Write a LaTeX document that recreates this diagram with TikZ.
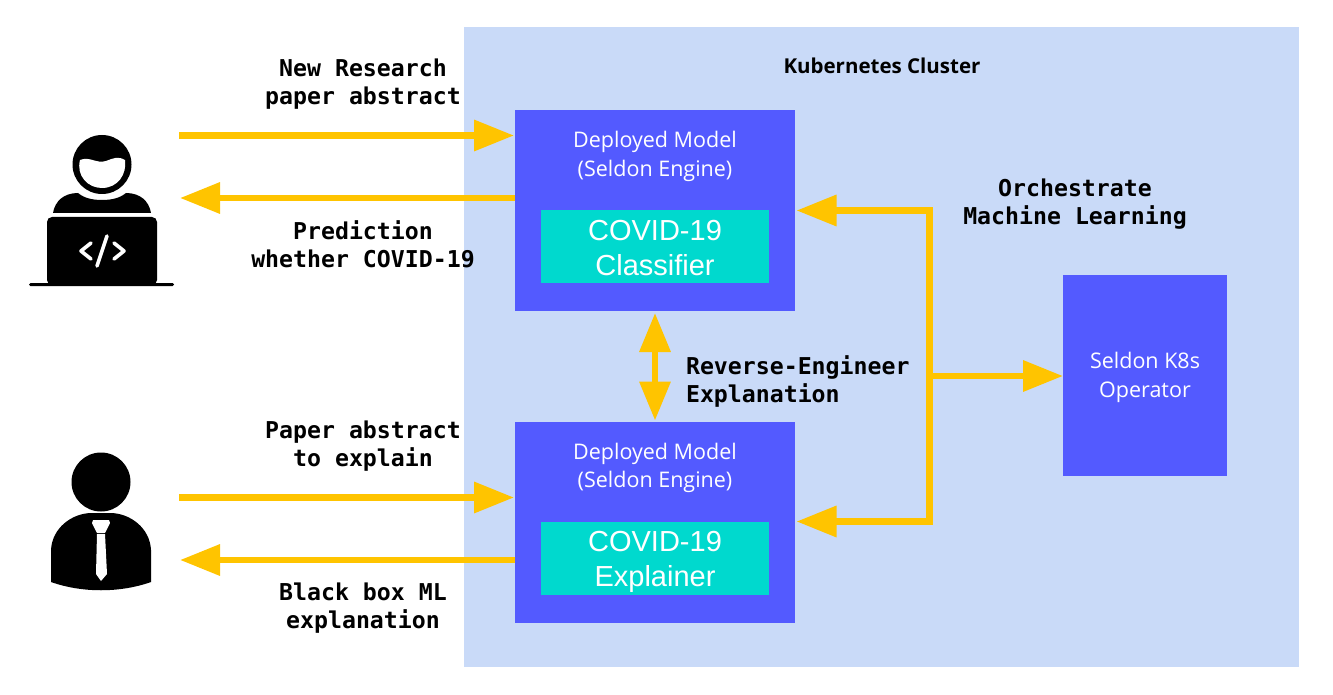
\documentclass[tikz,border=0pt]{standalone}
\usepackage{fontspec}
\setmainfont{Open Sans}
\newfontfamily\arialf{Liberation Sans}
\newfontfamily\monof{DejaVu Sans Mono}
\usetikzlibrary{arrows.meta,calc}
\definecolor{clusterbg}{HTML}{C9DAF8}
\definecolor{modelblue}{HTML}{535AFF}
\definecolor{teal}{HTML}{00D9CE}
\definecolor{arrowgold}{HTML}{FFC400}
\tikzset{
  boxbase/.style={draw=none,fill=modelblue,inner sep=0pt,outer sep=0pt,minimum width=#1},
  modelbox/.style={boxbase=280pt,minimum height=201pt},
  opbox/.style={boxbase=164pt,minimum height=201pt},
  tealbox/.style={fill=teal,inner sep=0pt,outer sep=0pt,minimum width=228pt,minimum height=73pt},
  boxtext/.style={text=white,align=center,font=\fontsize{21.5}{28.5}\selectfont},
  bigtext/.style={text=white,align=center,font=\arialf\fontsize{29}{35}\selectfont},
  monolabel/.style={align=center,text=black,font=\monof\bfseries\fontsize{23.2}{28}\selectfont},
  arrowline/.style={draw=arrowgold,line width=6.5pt,-{Triangle[length=40pt,width=30pt]}},
  plainline/.style={draw=arrowgold,line width=6.5pt},
  bothline/.style={draw=arrowgold,line width=6.5pt,{Triangle[length=39pt,width=30pt]}-{Triangle[length=39pt,width=30pt]}},
  iconfill/.style={fill=black,draw=none},
  iconwhite/.style={fill=white,draw=none},
  codeline/.style={draw=white,line width=3.6pt,line cap=round,line join=round}
}
\begin{document}
\begin{tikzpicture}[x=1pt,y=-1pt]
\useasboundingbox (0,0) rectangle (1333,695);
\fill[clusterbg] (464,27) rectangle (1299,667);
\node[font=\bfseries\fontsize{20.5}{24}\selectfont] (title) at (882,66) {Kubernetes Cluster};

\node[modelbox] (m1) at (655,210.5) {};
\node[modelbox] (m2) at (655,522) {};
\node[opbox] (op) at (1145,375.5) {};
\node[tealbox] (t1) at (655,246.5) {};
\node[tealbox] (t2) at (655,558.5) {};
\node[boxtext] (m1t) at (655,156.5) {Deployed Model\\(Seldon Engine)};
\node[boxtext] (m2t) at (655,468) {Deployed Model\\(Seldon Engine)};
\node[bigtext] (t1t) at (655,248) {COVID-19\\Classifier};
\node[bigtext] (t2t) at (655,562) {COVID-19\\Explainer};
\node[boxtext] (opt) at (1145,377.5) {Seldon K8s\\Operator};

\node[monolabel] (l1) at (363,84) {New Research\\paper abstract};
\node[monolabel] (l2) at (363,244.5) {Prediction\\whether COVID-19};
\node[monolabel] (l3) at (363,446) {Paper abstract\\to explain};
\node[monolabel] (l4) at (363,608) {Black box ML\\explanation};
\node[monolabel] (l5) at (1075,204) {Orchestrate\\Machine Learning};
\node[monolabel,align=left,anchor=west] (l6) at (682.5,381) {Reverse-Engineer\\Explanation};

\coordinate (u1out) at (179,135.5);
\coordinate (u1in) at (180,198);
\coordinate (u2out) at (179,497.5);
\coordinate (u2in) at (180,560);
\draw[arrowline] (u1out) -- ($(u1out -| m1.west)+(-1,0)$);
\draw[arrowline] (u1in -| m1.west) -- (u1in);
\draw[arrowline] (u2out) -- ($(u2out -| m2.west)+(-1,0)$);
\draw[arrowline] (u2in -| m2.west) -- (u2in);
\draw[bothline] ($(m1.south)+(0,2)$) -- ($(m2.north)+(0,-1)$);

\coordinate (bustop) at (929.5,210.5);
\coordinate (busbot) at (929.5,521.5);
\coordinate (busmid) at (929.5,376);
\draw[plainline,line cap=butt] ($(bustop)+(-40,0)$) -- (bustop) -- (busbot) -- ($(busbot)+(-40,0)$);
\draw[arrowline] ($(bustop)+(-30,0)$) -- ($(bustop -| m1.east)+(1.5,0)$);
\draw[arrowline] ($(busbot)+(-30,0)$) -- ($(busbot -| m2.east)+(1.5,0)$);
\draw[arrowline] (busmid) -- (busmid -| op.west);

% developer icon
\fill[iconfill] (102,164.5) circle (29.5);
\fill[iconwhite] (80,160) .. controls (90,156) and (96,164) .. (106,161)
  .. controls (114,158) and (118,156) .. (125,160)
  .. controls (127,174) and (118,188) .. (102,188)
  .. controls (88,188) and (76,176) .. (80,160) -- cycle;
\fill[iconfill] (53,213) .. controls (55,201) and (64,193) .. (78,193)
  .. controls (84,198) and (92,200) .. (102,200)
  .. controls (112,200) and (120,198) .. (126,193)
  .. controls (140,193) and (149,201) .. (151,213) -- cycle;
\fill[iconfill,rounded corners=5pt] (47,217) rectangle (157,285);
\fill[iconfill,rounded corners=1.5pt] (29,283) rectangle (174,286);
\draw[codeline] (91,243) -- (81,251) -- (91,259);
\draw[codeline] (114,243) -- (124,251) -- (114,259);
\draw[codeline] (107,236) -- (97,266);

% manager icon
\fill[iconfill] (101,482) circle (29.5);
\fill[iconfill] (51,582) -- (51,550) .. controls (52,528) and (72,513) .. (92,513)
  -- (110,513) .. controls (130,513) and (150,528) .. (151,550) -- (151,582)
  .. controls (120,593) and (82,593) .. (51,582) -- cycle;
\fill[iconwhite,rounded corners=0.5pt] (93,520) -- (109,520) -- (110,523) -- (105,533) -- (97,533) -- (92,523) -- cycle;
\fill[iconwhite] (97,534) -- (105,534) -- (107,574) -- (101,581) -- (96,574) -- cycle;
\end{tikzpicture}
\end{document}
